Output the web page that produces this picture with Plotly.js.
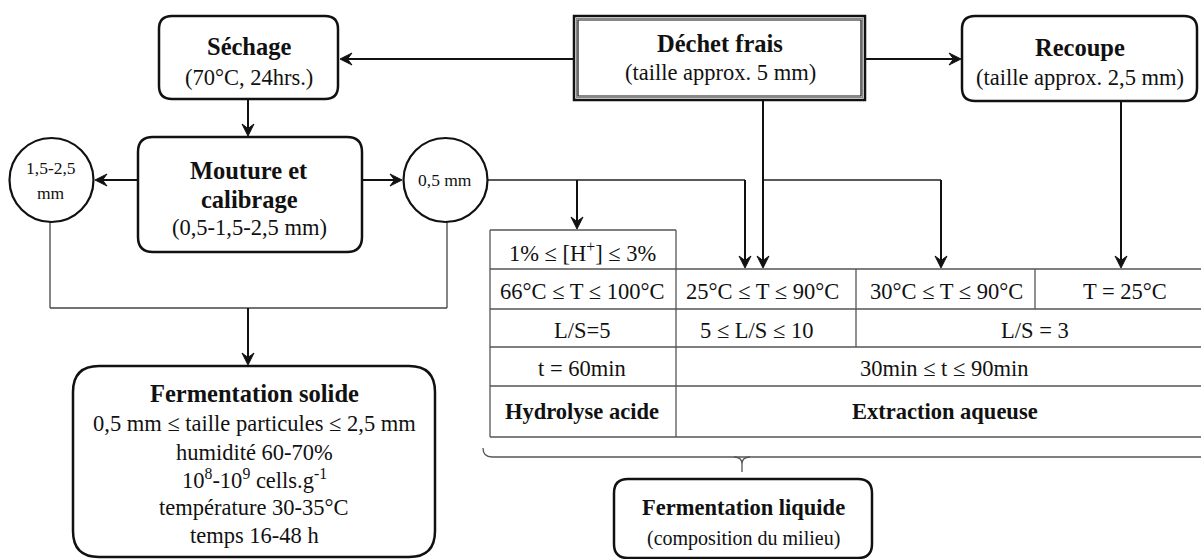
<!DOCTYPE html>
<html>
<head>
<meta charset="utf-8">
<script src="https://cdn.plot.ly/plotly-3.0.1.min.js"></script>
<style>html,body{margin:0;padding:0;background:#fff;}#chart{width:1201px;height:559px;}</style>
</head>
<body>
<div id="chart"></div>
<script>
// ---- content ----
const nodeTitles = ["Déchet frais", "Séchage", "Recoupe", "Fermentation liquide"];
const nodeSubtitles = ["(taille approx. 5 mm)", "(70°C, 24hrs.)", "(taille approx. 2,5 mm)", "(composition du milieu)"];
const millingLines = ["Mouture et", "calibrage", "(0,5-1,5-2,5 mm)"];
const coarseFraction = ["1,5-2,5", "mm"];
const fineFraction = "0,5 mm";
const solidTitle = "Fermentation solide";
const solidConditions = ["0,5 mm ≤ taille particules ≤ 2,5 mm", "humidité 60-70%", "10<sup>8</sup>-10<sup>9</sup> cells.g<sup>-1</sup>", "température 30-35°C", "temps 16-48 h"];
const acidColumn = ["1% ≤ [H<sup>+</sup>] ≤ 3%", "66°C ≤ T ≤ 100°C", "L/S=5", "t = 60min", "Hydrolyse acide"];
const tempRow = ["25°C ≤ T ≤ 90°C", "30°C ≤ T ≤ 90°C", "T = 25°C"];
const ratioRow = ["5 ≤ L/S ≤ 10", "L/S = 3"];
const timeRow = ["30min ≤ t ≤ 90min"];
const methodRow = ["Extraction aqueuse"];

// ---- helpers ----
const FONT = "Liberation Serif, Times New Roman, serif";
const INK = "#111";
function txt(text, x, y, size, bold) {
  return {x:x, y:y, xref:'x', yref:'y', text: bold ? '<b>'+text+'</b>' : text, showarrow:false,
    font:{family:FONT, size:size, color:INK}, xanchor:'center', yanchor:'middle'};
}
function line(x0, y0, x1, y1, w, c) {
  return {type:'line', xref:'x', yref:'y', x0:x0, y0:y0, x1:x1, y1:y1, line:{width:w||1.5, color:c||'#222'}};
}
// arrow drawn as a shaft plus a barbed head; (x1,y1) is the tip
function arrow(shapes, x0, y0, x1, y1) {
  const L = 12, H = 6, N = 7.5;
  const dx = x1 - x0, dy = y1 - y0, len = Math.sqrt(dx*dx + dy*dy);
  const ux = dx/len, uy = dy/len, px = -uy, py = ux;
  const bx = x1 - ux*L, by = y1 - uy*L;
  const nx = x1 - ux*N, ny = y1 - uy*N;
  shapes.push(line(x0, y0, nx, ny, 2, INK));
  shapes.push({type:'path', xref:'x', yref:'y',
    path:'M'+x1+','+y1+' L'+(bx+px*H)+','+(by+py*H)+' L'+nx+','+ny+' L'+(bx-px*H)+','+(by-py*H)+' Z',
    fillcolor:INK, line:{width:1, color:INK}});
}
function rr(x0, y0, x1, y1, r) {
  return 'M'+(x0+r)+','+y0+' L'+(x1-r)+','+y0+' Q'+x1+','+y0+' '+x1+','+(y0+r)+
    ' L'+x1+','+(y1-r)+' Q'+x1+','+y1+' '+(x1-r)+','+y1+' L'+(x0+r)+','+y1+
    ' Q'+x0+','+y1+' '+x0+','+(y1-r)+' L'+x0+','+(y0+r)+' Q'+x0+','+y0+' '+(x0+r)+','+y0+' Z';
}
function rbox(x0, y0, x1, y1, r, w) {
  return {type:'path', xref:'x', yref:'y', path:rr(x0,y0,x1,y1,r), fillcolor:'#fff', line:{width:w||2.5, color:INK}};
}
function rect(x0, y0, x1, y1, w, c, fill) {
  return {type:'rect', xref:'x', yref:'y', x0:x0, y0:y0, x1:x1, y1:y1, fillcolor:fill||'rgba(0,0,0,0)', line:{width:w, color:c}};
}
function circ(cx, cy, r) {
  return {type:'circle', xref:'x', yref:'y', x0:cx-r, y0:cy-r, x1:cx+r, y1:cy+r, fillcolor:'#fff', line:{width:2.2, color:INK}};
}

const shapes = [];
const ann = [];

// connector lines (thin)
const TL = '#444';
shapes.push(line(50, 222, 50, 308, 1.3, TL));
shapes.push(line(50, 308, 447, 308, 1.3, TL));
shapes.push(line(447, 222, 447, 308, 1.3, TL));
shapes.push(line(488, 180, 745, 180, 1.5, '#222'));
shapes.push(line(763, 180, 941, 180, 1.5, '#222'));

// table lines
const GL = '#555';
shapes.push(line(490, 230, 676, 230, 1.3, GL));
shapes.push(line(490, 230, 490, 437, 1.3, GL));
shapes.push(line(676, 230, 676, 437, 1.3, GL));
[269, 309, 347, 386, 437].forEach(function(y){ shapes.push(line(490, y, 1201, y, 1.3, GL)); });
shapes.push(line(856, 269, 856, 347, 1.3, GL));
shapes.push(line(1035, 269, 1035, 309, 1.3, GL));

// curly bracket under the table
shapes.push({type:'path', xref:'x', yref:'y', path:'M483,448 Q483,457 492,457 L1201,457', line:{width:1.3, color:GL}});
shapes.push({type:'path', xref:'x', yref:'y', path:'M734,457 Q742,457 742,464 L742,472 M750,457 Q742,457 742,464', line:{width:1.3, color:GL}});

// boxes
shapes.push(rect(574, 16, 865, 100, 2.5, INK, '#fff'));
shapes.push(rect(576.5, 18.5, 862.5, 97.5, 1.2, '#888'));
shapes.push(rect(578, 20, 861, 96, 1.2, INK));
shapes.push(rbox(159, 16, 338, 99, 13));
shapes.push(rbox(962, 16, 1197, 101, 13));
shapes.push(rbox(138, 137, 362, 252, 15));
shapes.push(rbox(73, 366, 435, 557, 26));
shapes.push(rbox(614, 479, 872, 558, 14));
shapes.push(circ(51.5, 180, 42));
shapes.push(circ(445.5, 180, 42));

// arrows
arrow(shapes, 574, 59, 340, 59);
arrow(shapes, 865, 59, 961, 59);
arrow(shapes, 248, 99, 248, 136);
arrow(shapes, 138, 180, 95, 180);
arrow(shapes, 362, 180, 402, 180);
arrow(shapes, 577, 180, 577, 229);
arrow(shapes, 745, 180, 745, 268);
arrow(shapes, 763, 100, 763, 268);
arrow(shapes, 941, 180, 941, 268);
arrow(shapes, 1121, 101, 1121, 268);
arrow(shapes, 248, 308, 248, 365);

// box texts
const BS = 24.5, RS = 22.5;
ann.push(txt(nodeTitles[0], 720, 43, BS, true));
ann.push(txt(nodeSubtitles[0], 720, 72, RS));
ann.push(txt(nodeTitles[1], 249, 46, BS, true));
ann.push(txt(nodeSubtitles[1], 249, 77, RS));
ann.push(txt(nodeTitles[2], 1080, 47, BS, true));
ann.push(txt(nodeSubtitles[2], 1080, 77, RS));
ann.push(txt(nodeTitles[3], 743, 507, 22.5, true));
ann.push(txt(nodeSubtitles[3], 743, 538, 20));
ann.push(txt(millingLines[0], 249, 170, BS, true));
ann.push(txt(millingLines[1], 249, 199, BS, true));
ann.push(txt(millingLines[2], 249, 227, RS));
ann.push(txt(coarseFraction[0], 51, 168, 17.5));
ann.push(txt(coarseFraction[1], 51, 193, 17.5));
ann.push(txt(fineFraction, 445, 180, 17.5));
ann.push(txt(solidTitle, 254, 393, BS, true));
const solidY = [423, 452, 479, 507, 535];
solidConditions.forEach(function(s, i){ ann.push(txt(s, 254, solidY[i], RS)); });

// table texts
const rowY = [252, 291, 330, 368, 411];
acidColumn.forEach(function(s, i){ ann.push(txt(s, 582, rowY[i], RS, i === 4)); });
const tempX = [762, 946, 1125];
tempRow.forEach(function(s, i){ ann.push(txt(s, tempX[i], rowY[1], RS)); });
const ratioX = [756, 1035];
ratioRow.forEach(function(s, i){ ann.push(txt(s, ratioX[i], rowY[2], RS)); });
ann.push(txt(timeRow[0], 944, rowY[3], RS));
ann.push(txt(methodRow[0], 945, rowY[4], RS, true));

const layout = {
  width:1201, height:559, margin:{l:0, r:0, t:0, b:0},
  paper_bgcolor:'#fff', plot_bgcolor:'#fff', showlegend:false,
  xaxis:{range:[0,1201], visible:false, fixedrange:true},
  yaxis:{range:[559,0], visible:false, fixedrange:true},
  shapes:shapes, annotations:ann
};
Plotly.newPlot('chart', [{x:[], y:[], type:'scatter', mode:'markers', hoverinfo:'skip'}], layout, {staticPlot:true, displayModeBar:false});
</script>
</body>
</html>
